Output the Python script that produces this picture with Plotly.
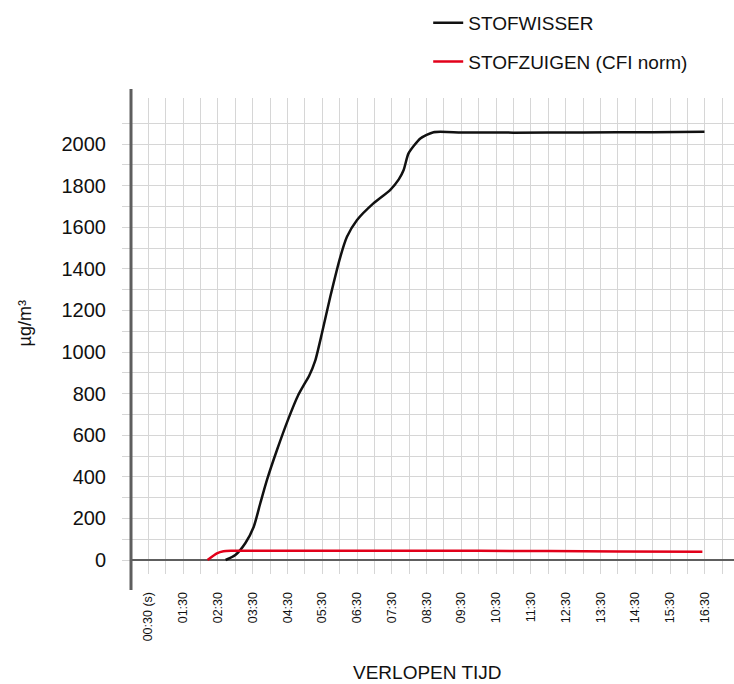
import plotly.graph_objects as go

# ---- data (time in minutes, concentration in µg/m³) ----
wisser_t = [2.72, 3.00, 3.29, 3.53, 3.72, 3.91, 4.20, 4.53, 4.80, 5.00, 5.12, 5.30, 5.49,
            5.73, 6.02, 6.21, 6.50, 6.97, 7.45, 7.70, 7.84, 7.98, 8.32, 8.70, 9.50,
            11.0, 13.0, 15.0, 16.49]
wisser_v = [0, 24, 82, 160, 274, 385, 530, 681, 790, 850, 885, 960, 1090,
            1266, 1458, 1554, 1635, 1715, 1779, 1830, 1875, 1955, 2027, 2057, 2056,
            2055, 2056, 2057, 2059]

zuigen_t = [2.20, 2.47, 2.66, 2.90, 4.00, 6.00, 8.00, 10.0, 12.0, 14.0, 16.43]
zuigen_v = [0, 32, 42, 44, 45, 45, 45, 44, 43, 41, 40]

series_names = ["STOFWISSER", "STOFZUIGEN (CFI norm)"]

x_gridvals = [i * 0.5 for i in range(1, 35)]
x_ticktext = [("00:30 (s)" if v == 0.5 else f"{int(v):02d}:30") if (v % 1) == 0.5 else "" for v in x_gridvals]

y_gridvals = list(range(0, 2101, 100))
y_ticktext = [str(v) if v % 200 == 0 and v <= 2000 else "" for v in y_gridvals]

FONT = "Liberation Sans, Arial, Helvetica, sans-serif"
GRID = "#d6d6d6"
AXIS = "#5e5e5e"
RED = "#e2001a"

fig = go.Figure()
fig.add_trace(go.Scatter(x=wisser_t, y=wisser_v, mode="lines", name=series_names[0],
                         line=dict(color="#111111", width=2.5, shape="spline", smoothing=0.6),
                         legendgroup="a"))
fig.add_trace(go.Scatter(x=zuigen_t, y=zuigen_v, mode="lines", name=series_names[1],
                         line=dict(color=RED, width=2.5, shape="spline", smoothing=0.6),
                         legendgroup="b"))

plot_top, plot_bottom = 98, 574
plot_h = plot_bottom - plot_top

fig.update_layout(
    width=734, height=684,
    margin=dict(l=130.6, r=0, t=plot_top, b=684 - plot_bottom, autoexpand=False),
    paper_bgcolor="white", plot_bgcolor="white",
    font=dict(family=FONT, color="#111111"),
    showlegend=True,
    legend=dict(x=(428 - 130.6) / 603.4, xanchor="left", y=(plot_bottom - 4) / plot_h, yanchor="top",
                font=dict(size=19, color="#111111"), tracegroupgap=11, bgcolor="rgba(0,0,0,0)",
                itemwidth=30),
    xaxis=dict(range=[0, (734 - 130.6) / 34.8], tickmode="array", tickvals=x_gridvals,
               ticktext=x_ticktext, tickangle=-90, tickfont=dict(size=12.5, color="#111111"),
               showgrid=True, gridcolor=GRID, gridwidth=1, zeroline=False, showline=False,
               ticks="outside", ticklen=12, tickcolor="rgba(0,0,0,0)"),
    yaxis=dict(range=[-67.3, 2221.5], tickmode="array", tickvals=y_gridvals, ticktext=y_ticktext,
               tickfont=dict(size=20, color="#111111"), showgrid=True, gridcolor=GRID, gridwidth=1,
               zeroline=True, zerolinecolor=AXIS, zerolinewidth=2, showline=False,
               ticks="outside", ticklen=8, tickcolor=GRID, ticklabelstandoff=12),
    annotations=[
        dict(text="VERLOPEN TIJD", xref="paper", yref="paper", x=(427 - 130.6) / 603.4,
             y=(plot_bottom - 672) / plot_h, xanchor="center", yanchor="middle", showarrow=False,
             font=dict(size=19, color="#111111")),
        dict(text="µg/m³", xref="paper", yref="paper", x=(25 - 130.6) / 603.4,
             y=(plot_bottom - 323) / plot_h, xanchor="center", yanchor="middle", showarrow=False,
             textangle=-90, font=dict(size=18, color="#111111")),
    ],
    shapes=[
        dict(type="line", xref="paper", yref="paper", x0=0, x1=0,
             y0=(plot_bottom - 590) / plot_h, y1=(plot_bottom - 89) / plot_h,
             line=dict(color=AXIS, width=3), layer="above"),
    ],
)

fig.write_html("out.html", config={"displayModeBar": False},
               post_script="document.body.style.margin='0';document.body.style.overflow='hidden';")
